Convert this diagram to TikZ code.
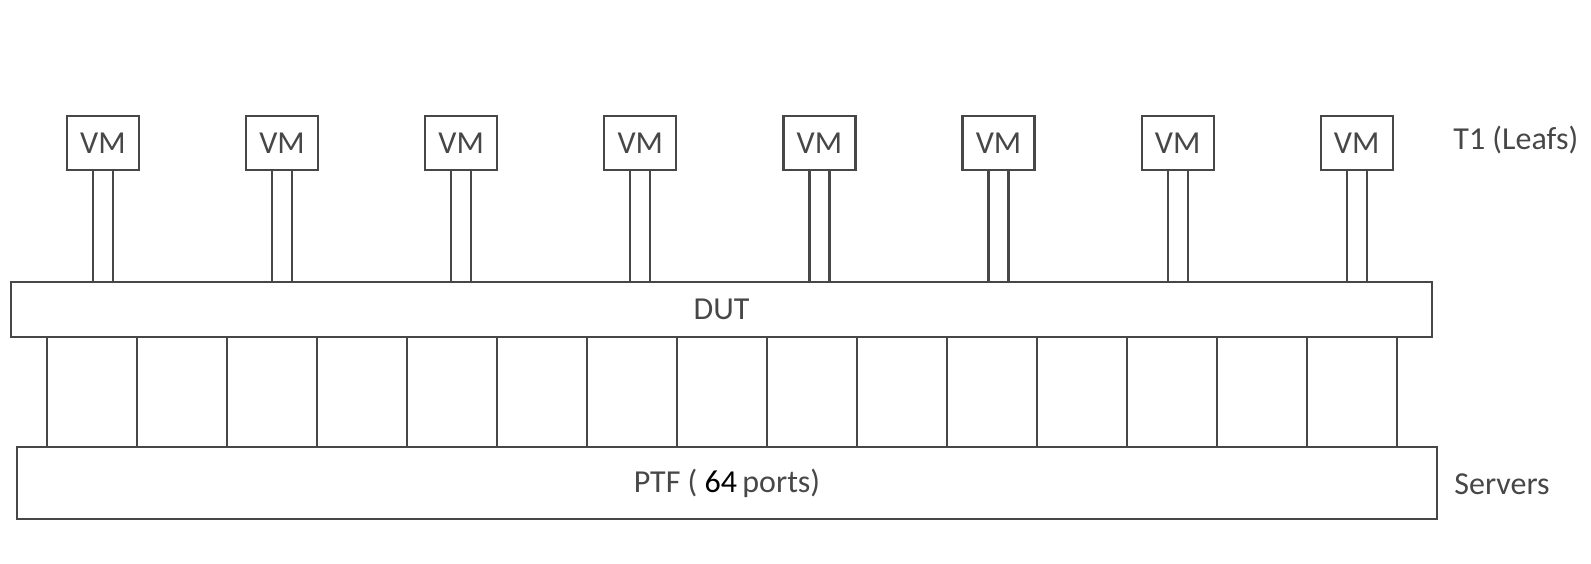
\documentclass[tikz,border=0pt]{standalone}
\usepackage{fontspec}
\setmainfont{Carlito}
\usepackage{tikz}
\usetikzlibrary{positioning}
\definecolor{linegray}{HTML}{474747}

\begin{document}
\begin{tikzpicture}[line join=miter,
  every node/.style={text=linegray,font=\fontsize{16bp}{19bp}\selectfont},
  vmbox/.style={draw=linegray,line width=1.1bp,inner sep=0pt,minimum width=36bp,minimum height=27bp},
  bar/.style={draw=linegray,line width=1.1bp,inner sep=0pt},
  lbl/.style={anchor=west,inner sep=0pt},
  wire/.style={draw=linegray,line width=1.1bp},
]
\useasboundingbox (0bp,0bp) rectangle (795.5bp,282bp);
%%
\node (dut) at (360.75bp,127.25bp) [bar,minimum width=710.5bp,minimum height=27.5bp] {DUT};
  \node (ptf) at (363.5bp,40.5bp) [bar,minimum width=710bp,minimum height=36bp] {PTF ( \textcolor{black}{64}\,ports)};
  \node (vm1) at (51.5bp,210.5bp) [vmbox] {VM};
  \node (vm2) at (141.05bp,210.5bp) [vmbox] {VM};
  \node (vm3) at (230.6bp,210.5bp) [vmbox] {VM};
  \node (vm4) at (320.15bp,210.5bp) [vmbox] {VM};
  \node (vm5) at (409.7bp,210.5bp) [vmbox] {VM};
  \node (vm6) at (499.25bp,210.5bp) [vmbox] {VM};
  \node (vm7) at (588.8bp,210.5bp) [vmbox] {VM};
  \node (vm8) at (678.35bp,210.5bp) [vmbox] {VM};
  \node (leafs) at (726.5bp,212bp) [lbl] {T1 (Leafs)};
  \node (servers) at (727bp,40bp) [lbl] {Servers};
%
  \draw [wire] ([xshift=-5bp]vm1.south) -- ([xshift=-5bp]vm1.south |- dut.north) ([xshift=5bp]vm1.south) -- ([xshift=5bp]vm1.south |- dut.north);
  \draw [wire] ([xshift=-5bp]vm2.south) -- ([xshift=-5bp]vm2.south |- dut.north) ([xshift=5bp]vm2.south) -- ([xshift=5bp]vm2.south |- dut.north);
  \draw [wire] ([xshift=-5bp]vm3.south) -- ([xshift=-5bp]vm3.south |- dut.north) ([xshift=5bp]vm3.south) -- ([xshift=5bp]vm3.south |- dut.north);
  \draw [wire] ([xshift=-5bp]vm4.south) -- ([xshift=-5bp]vm4.south |- dut.north) ([xshift=5bp]vm4.south) -- ([xshift=5bp]vm4.south |- dut.north);
  \draw [wire] ([xshift=-5bp]vm5.south) -- ([xshift=-5bp]vm5.south |- dut.north) ([xshift=5bp]vm5.south) -- ([xshift=5bp]vm5.south |- dut.north);
  \draw [wire] ([xshift=-5bp]vm6.south) -- ([xshift=-5bp]vm6.south |- dut.north) ([xshift=5bp]vm6.south) -- ([xshift=5bp]vm6.south |- dut.north);
  \draw [wire] ([xshift=-5bp]vm7.south) -- ([xshift=-5bp]vm7.south |- dut.north) ([xshift=5bp]vm7.south) -- ([xshift=5bp]vm7.south |- dut.north);
  \draw [wire] ([xshift=-5bp]vm8.south) -- ([xshift=-5bp]vm8.south |- dut.north) ([xshift=5bp]vm8.south) -- ([xshift=5bp]vm8.south |- dut.north);
%
  \coordinate (port1) at (23.5bp,0bp);
  \coordinate (port2) at (68.5bp,0bp);
  \coordinate (port3) at (113.5bp,0bp);
  \coordinate (port4) at (158.5bp,0bp);
  \coordinate (port5) at (203.5bp,0bp);
  \coordinate (port6) at (248.5bp,0bp);
  \coordinate (port7) at (293.5bp,0bp);
  \coordinate (port8) at (338.5bp,0bp);
  \coordinate (port9) at (383.5bp,0bp);
  \coordinate (port10) at (428.5bp,0bp);
  \coordinate (port11) at (473.5bp,0bp);
  \coordinate (port12) at (518.5bp,0bp);
  \coordinate (port13) at (563.5bp,0bp);
  \coordinate (port14) at (608.5bp,0bp);
  \coordinate (port15) at (653.5bp,0bp);
  \coordinate (port16) at (698.5bp,0bp);
  \draw [wire] (port1 |- dut.south) -- (port1 |- ptf.north);
  \draw [wire] (port2 |- dut.south) -- (port2 |- ptf.north);
  \draw [wire] (port3 |- dut.south) -- (port3 |- ptf.north);
  \draw [wire] (port4 |- dut.south) -- (port4 |- ptf.north);
  \draw [wire] (port5 |- dut.south) -- (port5 |- ptf.north);
  \draw [wire] (port6 |- dut.south) -- (port6 |- ptf.north);
  \draw [wire] (port7 |- dut.south) -- (port7 |- ptf.north);
  \draw [wire] (port8 |- dut.south) -- (port8 |- ptf.north);
  \draw [wire] (port9 |- dut.south) -- (port9 |- ptf.north);
  \draw [wire] (port10 |- dut.south) -- (port10 |- ptf.north);
  \draw [wire] (port11 |- dut.south) -- (port11 |- ptf.north);
  \draw [wire] (port12 |- dut.south) -- (port12 |- ptf.north);
  \draw [wire] (port13 |- dut.south) -- (port13 |- ptf.north);
  \draw [wire] (port14 |- dut.south) -- (port14 |- ptf.north);
  \draw [wire] (port15 |- dut.south) -- (port15 |- ptf.north);
  \draw [wire] (port16 |- dut.south) -- (port16 |- ptf.north);
%
\end{tikzpicture}
\end{document}
